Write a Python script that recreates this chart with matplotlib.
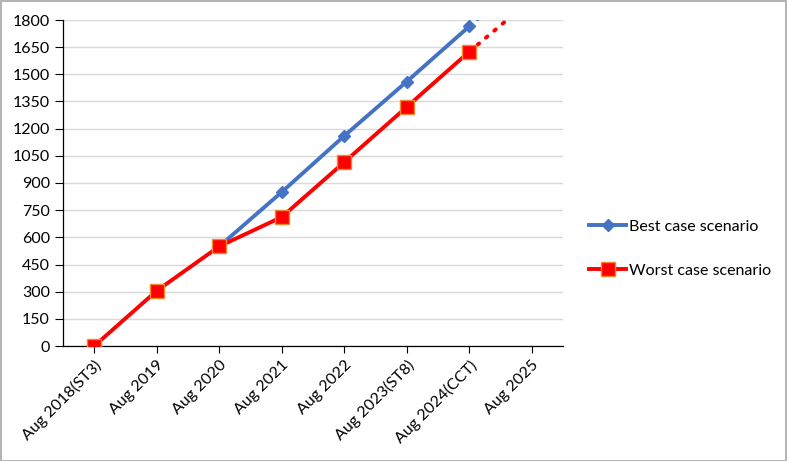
import matplotlib.pyplot as plt
import numpy as np

plt.rcParams['font.family'] = ['Lato', 'DejaVu Sans']

categories = ['Aug 2018(ST3)', 'Aug 2019', 'Aug 2020', 'Aug 2021', 'Aug 2022',
              'Aug 2023(ST8)', 'Aug 2024(CCT)', 'Aug 2025']
# best case starts where it splits from the worst case (Aug 2020)
best_idx = [2, 3, 4, 5, 6]
best_vals = [550, 850, 1160, 1460, 1765]
worst_idx = [0, 1, 2, 3, 4, 5, 6]
worst_vals = [0, 305, 550, 712, 1015, 1320, 1625]
# projection to Aug 2025 (dotted, runs off the top of the chart)
best_proj = [1765, 2065]
worst_proj = [1625, 1915]
proj_idx = [6, 7]

blue = '#4472C4'
red = '#FF0000'

fig = plt.figure(figsize=(7.88, 4.61), dpi=100)
ax = fig.add_axes([63 / 788, 1 - 346 / 461, 500 / 788, 326 / 461])

ax.plot(proj_idx, best_proj, color=blue, lw=2.8, ls=(0, (0.5, 2.3)),
        dash_capstyle='round', zorder=3)
ax.plot(proj_idx, worst_proj, color=red, lw=2.8, ls=(0, (0.5, 2.3)),
        dash_capstyle='round', zorder=3)
ax.plot(best_idx, best_vals, color=blue, lw=2.8, marker='D', ms=6.5,
        mfc=blue, mec=blue, label='Best case scenario', zorder=4)
ax.plot(worst_idx, worst_vals, color=red, lw=2.8, marker='s', ms=9.5,
        mfc=red, mec='#F4862F', mew=1, label='Worst case scenario', zorder=5)

ax.set_xlim(-0.5, len(categories) - 0.5)
ax.set_ylim(0, 1800)
ax.set_yticks(np.arange(0, 1801, 150))
ax.set_xticks(range(len(categories)))
ax.set_xticklabels(categories, rotation=45, ha='right', rotation_mode='anchor')
ax.tick_params(axis='both', labelsize=11.5, colors='#000000', length=5,
               width=0.8, direction='out')
ax.tick_params(axis='y', length=6)
ax.grid(axis='y', color='#D9D9D9', lw=1)
ax.set_axisbelow(True)
for s in ['top', 'right']:
    ax.spines[s].set_visible(False)
for s in ['left', 'bottom']:
    ax.spines[s].set_color('#000000')
    ax.spines[s].set_linewidth(0.9)

leg = fig.legend(loc='upper left', bbox_to_anchor=(575 / 788, 1 - 205 / 461),
                 frameon=False, fontsize=11.5, handlelength=2.3,
                 labelspacing=1.9, handletextpad=0.2)

# chart-area border
fig.patches.append(plt.Rectangle((0.001, 0.001), 0.997, 0.997,
                                 transform=fig.transFigure, fill=False,
                                 edgecolor='#A6A6A6', lw=1.2))

fig.savefig('out.png', dpi=100)
